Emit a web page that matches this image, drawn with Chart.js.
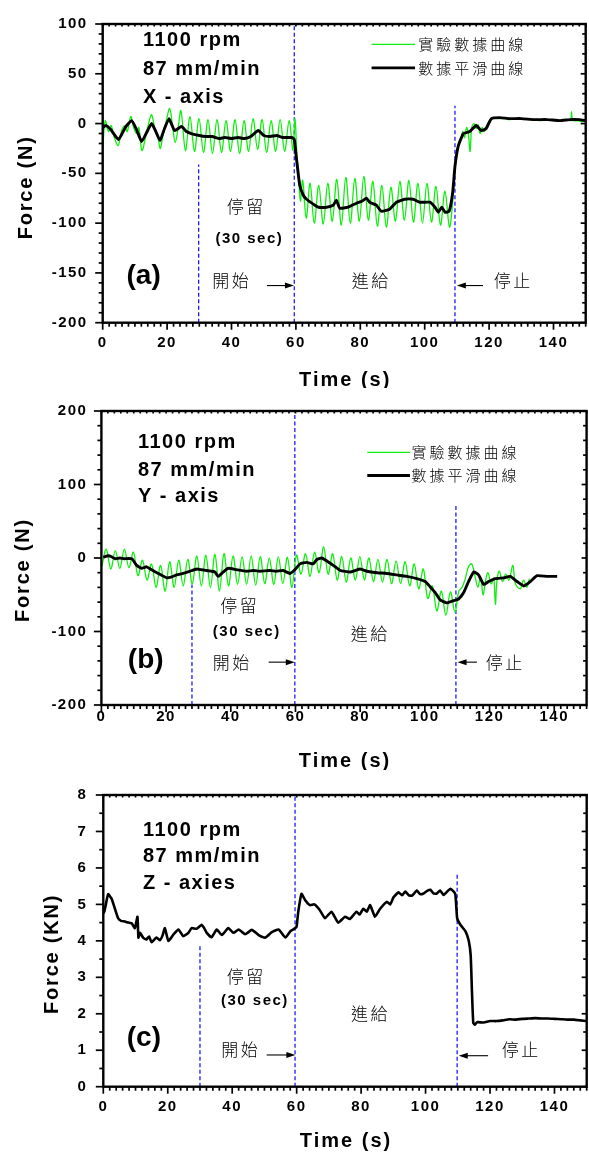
<!DOCTYPE html>
<html><head><meta charset="utf-8">
<script src="https://cdn.jsdelivr.net/npm/chart.js@4.4.1/dist/chart.umd.min.js"></script>
<style>
html,body{margin:0;padding:0;background:#fff;}
#wrap{position:relative;width:589px;height:1154px;overflow:hidden;background:#fff;}
canvas{position:absolute;left:0;}
</style></head><body>
<div id="wrap">
<canvas id="cA" width="589" height="388" style="top:0px"></canvas>
<canvas id="cB" width="589" height="382" style="top:388px"></canvas>
<canvas id="cC" width="589" height="384" style="top:770px"></canvas>
</div>
<script>
// ---------------- DATA ----------------
const seriesNames = ['實驗數據曲線', '數據平滑曲線'];
const timeTicks = [0, 20, 40, 60, 80, 100, 120, 140];
const forceTicksA = [-200, -150, -100, -50, 0, 50, 100];
const forceTicksB = [-200, -100, 0, 100, 200];
const forceTicksC = [0, 1, 2, 3, 4, 5, 6, 7, 8];

// (a) X-axis raw
const timeA_raw = [0,0.8,1.8,2.6,3.6,4.8,5.8,6.8,7.6,8.7,9.6,10.5,11.2,12.2,13.4,14.4,15.2,16.2,17.2,17.9,18.8,19.7,20.8,21.8,22.5,23.4,24.3,25.7,27.1,28.5,29.9,31.3,32.7,34.1,35.5,36.9,38.3,39.7,41.1,42.5,43.9,45.3,46.7,48.1,49.5,50.9,52.3,53.7,55.1,56.5,57.9,59.1,59.7,60.3,60.9,61.4,62.1,63.2,64.4,65.7,67.1,68.5,69.9,71.3,72.7,74.1,75.5,76.9,78.3,79.7,81.1,82.5,83.9,85.3,86.7,88.1,89.5,90.9,92.3,93.7,95.1,96.5,97.9,99.3,100.7,102.1,103.5,104.9,106.3,107.7,108.7,109.3,110,110.6,111.3,111.8,112.4,113,113.6,114.1,114.6,115.3,116,116.6,117.2,117.8,118.5,119.3,120.3,121.5,123,124.5,126,128,130,132,134,136,138,140,142,144,145.3,145.6,146,147.5,149,150];
const forceA_raw = [-25,3,-8,-2,-14,-22,-8,-2,-8,7,-4,-10,-4,-27,-12,2,9,-6,-15,-25,-10,2,15,-5,-19,-5,13,-27,7,-28,5,-29,4,-30,4,-29,3,-28,4,-30,3,-28,5,-26,4,-29,3,-28,4,-28,3,-27,5,-30,-55,-78,-57,-95,-60,-100,-62,-101,-60,-98,-56,-102,-54,-100,-55,-98,-53,-97,-58,-103,-62,-104,-64,-98,-58,-97,-57,-99,-60,-100,-60,-99,-63,-102,-68,-104,-78,-50,-28,-18,-16,-8,-14,-4,-12,-28,-4,0,-5,-1,-10,-4,-8,-2,4,6,5,6,4,5,5,4,4,3,4,3,3,4,3,12,3,3,2,3];
// (a) X-axis smoothed
const timeA_smooth = [0,1,2.5,4.9,7,9,10.5,12.1,13.8,15.2,16.5,17.8,19.2,20.6,22.3,24.5,26,27.5,30,32,34,36,38,40,42,44,46,48.3,50,52,54,56,58.7,59.5,60.2,61.2,62.3,63.3,65.9,67,69.5,71.6,72.6,73.6,76.2,78.8,80.5,81.9,82.9,85,86.5,89.1,91.2,93.8,96.4,98.5,101.6,103.2,104.2,105.3,106.3,107.6,108.7,109.4,110.4,112,114,116,117.6,119.1,120.7,123.3,126,130,134,138,142,145,148,150];
const forceA_smooth = [-4,-2,-6,-16,-4,3,-6,-18,-8,0,-8,-17,-5,5,-7,-3,-8,-10,-12,-13,-13,-15,-14,-15,-14,-15,-13,-7,-12,-13,-12,-14,-14,-16,-36,-62,-72,-76,-82,-84,-84,-82,-77,-85,-84,-80,-78,-75,-79,-82,-88,-86,-79,-76,-76,-79,-79,-84,-89,-84,-89,-88,-69,-43,-23,-10,-8,-2,-7,-5,5,6,5,5,4,4,3,4,4,3];

// (b) Y-axis raw
const timeB_raw = [0.1,1.5,2.9,4.3,5.7,7.1,8.5,9.9,11.3,12.7,14.1,15.5,16.9,18.3,19.7,21.1,22.5,23.9,25.3,26.7,28.1,29.5,30.9,32.3,33.7,35.1,36.5,37.9,39.3,40.7,42.1,43.5,44.9,46.3,47.7,49.1,50.5,51.9,53.3,54.7,56.1,57.5,58.9,60.3,61.7,63.1,64.5,65.9,67.3,68.7,70.1,71.5,72.9,74.3,75.7,77.1,78.5,79.9,81.3,82.7,84.1,85.5,86.9,88.3,89.7,91.1,92.5,93.9,95.3,96.7,98.1,99.5,100.9,102.3,103.7,105.1,106.5,107.9,109.3,110.5,111.5,112.5,113.5,114.5,115.5,116.4,117.2,118,118.8,119.5,120.5,121.3,121.8,122.3,123,124,125,126,127.2,128,129.5,130.5,131.5,132.3];
const forceB_raw = [-12,12,-15,10,-14,12,-13,8,-24,-3,-30,-8,-40,-10,-45,-5,-40,-3,-38,-2,-35,3,-38,4,-40,5,-45,6,-38,3,-36,2,-36,3,-37,2,-35,0,-36,2,-35,1,-40,4,-22,6,-25,8,-20,15,-22,6,-30,2,-33,0,-30,2,-30,0,-32,-2,-33,-2,-35,-4,-35,-5,-38,-8,-42,-15,-55,-38,-72,-45,-78,-46,-74,-45,-40,-28,-12,-8,-25,-40,-25,-50,-30,-20,-35,-28,-63,-30,-18,-32,-22,-30,-10,-35,-42,-30,-40,-28];
// (b) Y-axis smoothed
const timeB_smooth = [0.6,2.1,3,4.2,5.7,7,9.4,10.9,12.4,14,15.5,17.6,20.2,21.5,23.3,25.3,27.4,29.5,31,32.5,35.1,36.1,37.7,39.2,41.8,44.9,47,49,52,54,56.2,58.3,59.8,61.4,63.5,65.5,66.6,68.1,69.7,71.7,73.8,76.9,78.5,80,82.1,85.2,88.2,91.3,94.4,97.5,100.1,101.6,103.2,104.7,106.8,108.9,110.4,112,113.5,115.1,116.6,118.2,119.7,121.8,124.4,126.4,128.5,130.6,132.6,134.7,137.8,140.9];
const forceB_smooth = [1,3,2,-1,0,-1,-1,-10,-14,-12,-16,-21,-27,-26,-23,-21,-18,-15,-16,-17,-19,-25,-19,-14,-16,-18,-17,-18,-17,-18,-17,-21,-16,-8,-6,-8,-2,0,-4,-10,-17,-19,-17,-15,-18,-20,-21,-23,-25,-28,-32,-39,-47,-57,-61,-58,-56,-47,-32,-19,-23,-36,-32,-28,-27,-25,-32,-38,-32,-24,-25,-25];

// (c) Z-axis (kN)
const timeC = [0,0.3,0.8,1.5,2.6,3.6,4.6,5.5,6.7,7.8,8.8,9.8,10.6,10.9,11.4,12.4,13.4,14.2,15,16.5,17.6,18.4,19.1,20.2,21.8,23.3,24.8,26.4,27.4,29,30.5,31.3,32.1,33.6,35.2,36.8,38.8,40.4,42,44,46.1,48.2,50.3,52.3,54.4,56.5,58.1,59.6,60,60.5,61.5,62.6,64.1,65.5,67.2,68.8,70.8,72.9,75,76.5,78.6,79.5,80.7,81.8,82.8,84.3,85.9,88,89,90.1,91.6,92.7,93.7,94.8,95.8,97.3,98.3,99.4,100.5,101.5,102.5,103.5,104.5,105.6,106.7,107.7,109.2,109.8,110.8,112.4,113.4,114,114.4,114.8,115.3,116,118,120,122,124,126,128,130,132,134,136,138,140,142,144,146,148,150];
const forceC = [4.75,4.8,5.0,5.28,5.15,4.88,4.62,4.55,4.53,4.5,4.48,4.35,4.66,4.09,4.22,4.08,4.04,4.12,3.96,4.09,4.02,4.15,4.35,4.0,4.18,4.31,4.13,4.22,4.35,4.33,4.44,4.35,4.22,4.1,4.31,4.16,4.35,4.22,4.31,4.18,4.3,4.16,4.09,4.24,4.31,4.09,4.27,4.35,4.4,4.8,5.29,5.12,4.98,5.0,4.84,4.62,4.8,4.5,4.66,4.6,4.8,4.72,4.88,4.8,4.98,4.66,4.88,5.07,5.0,5.2,5.33,5.25,5.35,5.25,5.24,5.38,5.28,5.3,5.37,5.4,5.3,5.3,5.38,5.26,5.35,5.43,5.29,4.62,4.44,4.26,4.0,3.6,2.6,1.75,1.7,1.77,1.76,1.8,1.8,1.82,1.85,1.84,1.86,1.87,1.88,1.87,1.87,1.86,1.85,1.84,1.84,1.82,1.8];

// ---------------- STYLE / LAYOUT ----------------
const FONT = '"Liberation Sans", Arial, Helvetica, sans-serif';
const CJK = '"Noto Sans CJK TC", "Noto Sans CJK SC", sans-serif';
const GREEN = '#10ee10';
const BLUE = '#1a1aff';
const pts = (xs, ys) => xs.map((t, i) => ({x: t, y: ys[i]}));

const panels = [
  {id:'cA', padTop:18.3, padRight:3.3, yW:102.7, xH:65.3, yMin:-200, yMax:100, yTicks:forceTicksA, yMinor:10,
   xLabelPad:11, yLabelPad:15, yTitle:'Force (N)', yTitleX:26, yTitleDy:15, xTitleDy:57.3,
   tr:timeA_raw, fr:forceA_raw, ts:timeA_smooth, fs:forceA_smooth, smoothW:2.9,
   markers:[{x:29.8,top:-41},{x:59.5,top:100},{x:109.4,top:18}],
   texts:[
     {t:'1100 rpm',x:12.5,y:83.8,k:'info'},{t:'87 mm/min',x:12.5,y:54.2,k:'info'},{t:'X - axis',x:12.5,y:26.6,k:'info'},
     {t:'停留',x:44.2,y:-83.8,k:'cjk'},{t:'(30 sec)',x:45.3,y:-115.4,k:'sec'},{t:'(a)',x:12.7,y:-152.9,k:'letter'},
     {t:'開始',x:39.7,y:-157.8,k:'cjk'},{t:'進給',x:83,y:-157.8,k:'cjk'},{t:'停止',x:127.1,y:-157.8,k:'cjk'}],
   arrows:[{from:51,to:59.4,y:-162.7},{from:118.1,to:110,y:-162.7}],
   legend:{x1:83.5,x2:97,tx:98,rows:[79.6,55.9]}},
  {id:'cB', padTop:12, padRight:2.4, yW:101.4, xH:65, yMin:-200, yMax:200, yTicks:forceTicksB, yMinor:20,
   xLabelPad:3, yLabelPad:14, yTitle:'Force (N)', yTitleX:23, yTitleDy:13, xTitleDy:56,
   tr:timeB_raw, fr:forceB_raw, ts:timeB_smooth, fs:forceB_smooth, smoothW:2.9,
   markers:[{x:28,top:-36},{x:59.8,top:200},{x:109.6,top:71}],
   texts:[
     {t:'1100 rpm',x:11.3,y:157,k:'info'},{t:'87 mm/min',x:11.3,y:118.8,k:'info'},{t:'Y - axis',x:11.3,y:83.3,k:'info'},
     {t:'停留',x:42.4,y:-65,k:'cjk'},{t:'(30 sec)',x:44.7,y:-100,k:'sec'},{t:'(b)',x:13.7,y:-139,k:'letter'},
     {t:'開始',x:40.1,y:-141.7,k:'cjk'},{t:'進給',x:82.7,y:-103.2,k:'cjk'},{t:'停止',x:124.5,y:-141.7,k:'cjk'}],
   arrows:[{from:51.7,to:59.8,y:-141.7},{from:116.1,to:110.1,y:-141.7}],
   legend:{x1:82.2,x2:95.4,tx:95.9,rows:[143.8,112.2]}},
  {id:'cC', padTop:16.7, padRight:2.3, yW:103.3, xH:67.3, yMin:0, yMax:8, yTicks:forceTicksC, yMinor:0.5,
   xLabelPad:11, yLabelPad:16, yTitle:'Force (KN)', yTitleX:52, yTitleDy:14, xTitleDy:55,
   tr:null, fr:null, ts:timeC, fs:forceC, smoothW:2.6,
   markers:[{x:30,top:3.87},{x:59.5,top:8},{x:109.8,top:5.82}],
   texts:[
     {t:'1100 rpm',x:12.3,y:7.04,k:'info'},{t:'87 mm/min',x:12.3,y:6.31,k:'info'},{t:'Z - axies',x:12.3,y:5.56,k:'info'},
     {t:'停留',x:44,y:3.02,k:'cjk'},{t:'(30 sec)',x:46.8,y:2.36,k:'sec'},{t:'進給',x:82.5,y:2.0,k:'cjk'},
     {t:'(c)',x:12.6,y:1.33,k:'letter'},{t:'開始',x:42.3,y:1.03,k:'cjk'},{t:'停止',x:129.3,y:1.03,k:'cjk'}],
   arrows:[{from:50.7,to:59.6,y:0.87},{from:119.4,to:110.3,y:0.85}],
   legend:null}
];

const textStyles = {
  info:{font:'bold 20px '+FONT, ls:1.5, align:'left'},
  cjk:{font:'300 17px '+CJK, ls:2.5, align:'center'},
  sec:{font:'bold 15px '+FONT, ls:1.5, align:'center'},
  letter:{font:'bold 28px '+FONT, ls:0, align:'center'}
};

function makeChart(p) {
  const datasets = [];
  datasets.push({label:seriesNames[1], data:pts(p.ts, p.fs), borderColor:'#000', borderWidth:p.smoothW,
    pointRadius:0, tension:0.15, order:0, borderJoinStyle:'round'});
  if (p.tr) datasets.push({label:seriesNames[0], data:pts(p.tr, p.fr), borderColor:GREEN, borderWidth:1.3,
    pointRadius:0, tension:0.35, order:1});
  p.markers.forEach(m => datasets.push({label:'', data:[{x:m.x, y:p.yMin}, {x:m.x, y:m.top}],
    borderColor:BLUE, borderWidth:1.3, borderDash:[4, 2.5], pointRadius:0, order:2}));

  const decor = {
    id:'decor_' + p.id,
    beforeDraw(chart) { chart.ctx.letterSpacing = '1.5px'; },
    afterDraw(chart) {
      const {ctx, chartArea:a, scales:{x, y}} = chart;
      ctx.save();
      ctx.letterSpacing = '0px';
      ctx.strokeStyle = '#000';
      const ln = (x1, y1, x2, y2) => { ctx.beginPath(); ctx.moveTo(x1, y1); ctx.lineTo(x2, y2); ctx.stroke(); };
      // ticks
      ctx.lineWidth = 1.7;
      const nx = Math.round((x.max - x.min) / 2);
      for (let i = 0; i <= nx; i++) {
        const v = x.min + i * 2;
        const px = x.getPixelForValue(v);
        const major = (v % 20) === 0;
        ln(px, a.bottom, px, a.bottom + (major ? 7 : 4));
        ln(px, a.top, px, a.top + 2.5);
      }
      const ny = Math.round((p.yMax - p.yMin) / p.yMinor);
      for (let i = 0; i <= ny; i++) {
        const v = p.yMin + i * p.yMinor;
        const py = y.getPixelForValue(v);
        const major = p.yTicks.some(t => Math.abs(t - v) < 1e-6);
        ln(a.left, py, a.left - (major ? 7.5 : 4), py);
        ln(a.right, py, a.right - (major ? 5 : 3.5), py);
      }
      // frame
      ctx.lineWidth = 2.4;
      ctx.strokeRect(a.left, a.top, a.right - a.left, a.bottom - a.top);
      // arrows
      ctx.lineWidth = 1.1;
      ctx.fillStyle = '#000';
      p.arrows.forEach(ar => {
        const x1 = x.getPixelForValue(ar.from), x2 = x.getPixelForValue(ar.to), yy = y.getPixelForValue(ar.y);
        const d = Math.sign(x2 - x1);
        ln(x1, yy, x2 - d * 5, yy);
        ctx.beginPath(); ctx.moveTo(x2, yy); ctx.lineTo(x2 - d * 9, yy - 3); ctx.lineTo(x2 - d * 9, yy + 3); ctx.closePath(); ctx.fill();
      });
      // texts
      ctx.textBaseline = 'middle';
      p.texts.forEach(t => {
        const s = textStyles[t.k];
        ctx.font = s.font; ctx.letterSpacing = s.ls + 'px'; ctx.textAlign = s.align;
        const px = x.getPixelForValue(t.x) + (s.align === 'center' ? s.ls / 2 : 0);
        ctx.fillText(t.t, px, y.getPixelForValue(t.y));
      });
      // legend
      if (p.legend) {
        const L = p.legend;
        const lx1 = x.getPixelForValue(L.x1), lx2 = x.getPixelForValue(L.x2), tx = x.getPixelForValue(L.tx);
        [1, 0].forEach((di, r) => {
          const ds = chart.data.datasets[di];
          const yy = y.getPixelForValue(L.rows[r]);
          ctx.strokeStyle = ds.borderColor; ctx.lineWidth = ds.borderWidth;
          ln(lx1, yy, lx2, yy);
          ctx.fillStyle = '#000'; ctx.font = '300 15px ' + CJK; ctx.letterSpacing = '3px'; ctx.textAlign = 'left';
          ctx.fillText(ds.label, tx, yy);
        });
      }
      // axis titles
      ctx.fillStyle = '#000';
      ctx.font = 'bold 20px ' + FONT; ctx.letterSpacing = '2px'; ctx.textAlign = 'center';
      ctx.fillText('Time (s)', (a.left + a.right) / 2 + 1, a.bottom + p.xTitleDy);
      ctx.save();
      ctx.translate(p.yTitleX, (a.top + a.bottom) / 2 + p.yTitleDy);
      ctx.rotate(-Math.PI / 2);
      ctx.letterSpacing = '1.8px';
      ctx.fillText(p.yTitle, 1, 0);
      ctx.restore();
      ctx.restore();
      ctx.letterSpacing = '0px';
    }
  };

  const tickFont = {family:FONT, size:15, weight:'bold'};
  return new Chart(document.getElementById(p.id), {
    type:'line',
    data:{datasets},
    options:{
      responsive:false, animation:false, devicePixelRatio:1, events:[],
      layout:{padding:{top:p.padTop, right:p.padRight, left:0, bottom:0}},
      plugins:{legend:{display:false}, tooltip:{enabled:false}},
      scales:{
        x:{type:'linear', min:0, max:150,
           afterBuildTicks:s => { s.ticks = timeTicks.map(v => ({value:v})); },
           afterFit:s => { s.height = p.xH; },
           grid:{display:false, drawTicks:false}, border:{display:false},
           ticks:{padding:p.xLabelPad, color:'#000', font:tickFont, maxRotation:0, autoSkip:false, callback:v => String(v)}},
        y:{type:'linear', min:p.yMin, max:p.yMax,
           afterBuildTicks:s => { s.ticks = p.yTicks.map(v => ({value:v})); },
           afterFit:s => { s.width = p.yW; },
           grid:{display:false, drawTicks:false}, border:{display:false},
           ticks:{padding:p.yLabelPad, color:'#000', font:tickFont, autoSkip:false, callback:v => String(v)}}
      }
    },
    plugins:[decor]
  });
}

panels.forEach(makeChart);
</script>
</body></html>
